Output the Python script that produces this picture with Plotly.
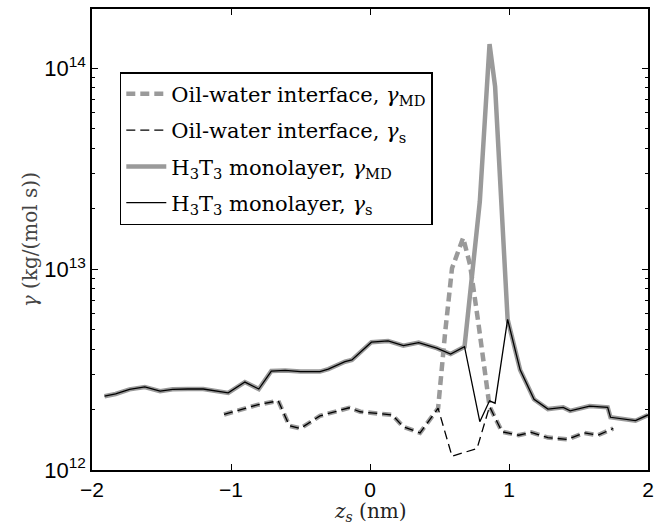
import plotly.graph_objects as go

# ---------------- data ----------------
# H3T3 monolayer
h3t3_z = [-1.91, -1.83, -1.73, -1.62, -1.51, -1.42, -1.31, -1.20, -1.02, -0.90, -0.80, -0.71,
          -0.61, -0.50, -0.36, -0.30, -0.18, -0.13, 0.01, 0.13, 0.24, 0.35, 0.48, 0.58, 0.68,
          0.79, 0.86, 0.90, 0.99, 1.08, 1.18, 1.28, 1.39, 1.44, 1.58, 1.71, 1.73, 1.91, 2.00]
h3t3_gs = [2.33e12, 2.39e12, 2.52e12, 2.59e12, 2.47e12, 2.52e12, 2.53e12, 2.53e12, 2.42e12,
           2.74e12, 2.53e12, 3.11e12, 3.13e12, 3.09e12, 3.09e12, 3.18e12, 3.46e12, 3.53e12,
           4.33e12, 4.39e12, 4.16e12, 4.31e12, 4.04e12, 3.78e12, 4.11e12,
           1.74e12, 2.21e12, 2.15e12, 5.62e12, 3.15e12, 2.25e12, 2.01e12, 2.05e12, 1.97e12,
           2.08e12, 2.05e12, 1.83e12, 1.76e12, 1.88e12]
h3t3_gmd = [2.33e12, 2.39e12, 2.52e12, 2.59e12, 2.47e12, 2.52e12, 2.53e12, 2.53e12, 2.42e12,
            2.74e12, 2.53e12, 3.11e12, 3.13e12, 3.09e12, 3.09e12, 3.18e12, 3.46e12, 3.53e12,
            4.33e12, 4.39e12, 4.16e12, 4.31e12, 4.04e12, 3.78e12, 4.11e12,
            2.17e13, 1.32e14, 8.11e13, 5.62e12, 3.15e12, 2.25e12, 2.01e12, 2.05e12, 1.97e12,
            2.08e12, 2.05e12, 1.83e12, 1.76e12, 1.88e12]

# Oil-water interface, gamma_s
ow_z_s = [-1.05, -0.92, -0.81, -0.66, -0.58, -0.50, -0.36, -0.15, -0.07, 0.16, 0.24, 0.36,
          0.49, 0.59, 0.68, 0.77, 0.86, 0.95, 1.07, 1.16, 1.28, 1.42, 1.54, 1.64, 1.75]
ow_gs = [1.89e12, 2.00e12, 2.11e12, 2.21e12, 1.66e12, 1.61e12, 1.86e12, 2.04e12, 1.95e12,
         1.88e12, 1.64e12, 1.53e12, 2.03e12, 1.17e12, 1.22e12, 1.28e12, 2.07e12, 1.55e12,
         1.49e12, 1.54e12, 1.45e12, 1.42e12, 1.53e12, 1.49e12, 1.61e12]

# Oil-water interface, gamma_MD
ow_z_md = [-1.05, -0.92, -0.81, -0.66, -0.58, -0.50, -0.36, -0.15, -0.07, 0.16, 0.24, 0.36,
           0.49, 0.54, 0.59, 0.67, 0.72, 0.78, 0.86, 0.95, 1.07, 1.16, 1.28, 1.42, 1.54,
           1.64, 1.75]
ow_gmd = [1.89e12, 2.00e12, 2.11e12, 2.21e12, 1.66e12, 1.61e12, 1.86e12, 2.04e12, 1.95e12,
          1.88e12, 1.64e12, 1.53e12, 2.03e12, 4.79e12, 1.01e13, 1.43e13, 1.05e13, 5.37e12,
          2.07e12, 1.55e12, 1.49e12, 1.54e12, 1.45e12, 1.42e12, 1.53e12, 1.49e12, 1.61e12]

x_ticks = [-2, -1, 0, 1, 2]
x_ticktext = ["\u22122", "\u22121", "0", "1", "2"]
y_ticks = [1e12, 1e13, 1e14]
y_ticktext = ["10<sup>12</sup>", "10<sup>13</sup>", "10<sup>14</sup>"]
y_minor = [m * 10 ** e for e in (12, 13) for m in range(2, 10)] + [2e14]
x_title = "<i>z</i><sub><i>s</i></sub> (nm)"
y_title = "<i>γ</i> (kg/(mol s))"

GRAY = "#9a9a9a"
SERIF = "DejaVu Serif"
SANS = "Liberation Sans"

fig = go.Figure()
fig.add_trace(go.Scatter(x=ow_z_md, y=ow_gmd, mode="lines", legendgroup="a",
                         name="Oil-water interface, <i>γ</i><sub>MD</sub>",
                         line=dict(color=GRAY, width=4.5, dash="9px,5px")))
fig.add_trace(go.Scatter(x=ow_z_s, y=ow_gs, mode="lines", legendgroup="b",
                         name="Oil-water interface, <i>γ</i><sub>s</sub>",
                         line=dict(color="black", width=1.3, dash="9px,5px")))
fig.add_trace(go.Scatter(x=h3t3_z, y=h3t3_gmd, mode="lines", legendgroup="c",
                         name="H<sub>3</sub>T<sub>3</sub> monolayer, <i>γ</i><sub>MD</sub>",
                         line=dict(color=GRAY, width=4.5)))
fig.add_trace(go.Scatter(x=h3t3_z, y=h3t3_gs, mode="lines", legendgroup="d",
                         name="H<sub>3</sub>T<sub>3</sub> monolayer, <i>γ</i><sub>s</sub>",
                         line=dict(color="black", width=1.3)))

fig.update_layout(
    width=672, height=527,
    margin=dict(l=92, r=24, t=9, b=57, autoexpand=False),
    paper_bgcolor="white", plot_bgcolor="white",
    showlegend=True,
    legend=dict(x=0.05, y=0.863, xanchor="left", yanchor="top",
                bgcolor="white", bordercolor="black", borderwidth=1.5,
                font=dict(family=SERIF, size=21, color="black"),
                tracegroupgap=6, itemwidth=40),
    xaxis=dict(range=[-2, 2], tickvals=x_ticks, ticktext=x_ticktext, automargin=False,
               ticks="inside", ticklen=6, tickwidth=1, tickcolor="black",
               showline=True, linecolor="black", linewidth=1.5, mirror="ticks",
               showgrid=False, zeroline=False,
               tickfont=dict(family=SANS, size=21, color="black")),
    yaxis=dict(type="log", range=[12, 14.295], tickvals=y_ticks, ticktext=y_ticktext,
               automargin=False,
               ticks="inside", ticklen=6, tickwidth=1, tickcolor="black",
               minor=dict(tickvals=y_minor, ticks="inside", ticklen=3, tickcolor="black"),
               showline=True, linecolor="black", linewidth=1.5, mirror="ticks",
               showgrid=False, zeroline=False,
               tickfont=dict(family=SANS, size=22, color="black")),
    annotations=[
        dict(text=x_title, xref="paper", yref="paper", x=0.5, y=-0.091,
             xanchor="center", yanchor="middle", showarrow=False,
             font=dict(family=SERIF, size=20, color="#222")),
        dict(text=y_title, xref="paper", yref="paper", x=-0.112, y=0.5,
             xanchor="center", yanchor="middle", showarrow=False, textangle=-90,
             font=dict(family=SERIF, size=20, color="#444")),
    ],
)

fig.write_html("out.html", config={"displayModeBar": False},
               post_script="document.body.style.margin='0';document.body.style.padding='0';")
